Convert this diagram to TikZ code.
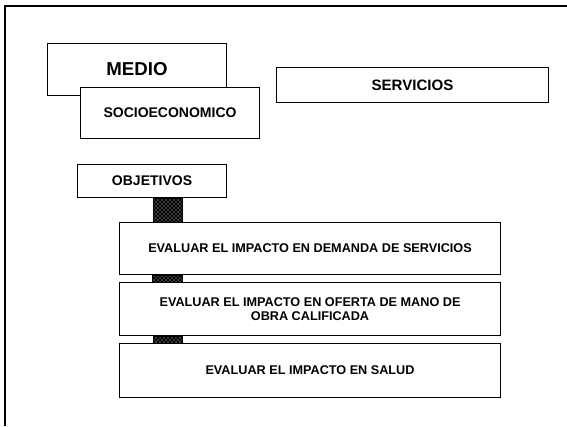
\documentclass[tikz,border=0pt]{standalone}
\usepackage{fontspec}
\setmainfont{Liberation Sans}
\usetikzlibrary{patterns,calc}

\begin{document}
\begin{tikzpicture}[x=0.75pt,y=-0.75pt,every node/.style={font=\bfseries},
  caja/.style={draw,line width=.8pt,fill=white,anchor=north west,inner sep=0pt,align=center},
  trama/.style={draw,line width=.4pt,preaction={fill=black},pattern=crosshatch dots,pattern color=white}]
\useasboundingbox (0,0) rectangle (567,426);
% marco
\draw[line width=1.5pt] (5,426)--(5,6)--(567,6);
% titulo
\node[caja,minimum width=134.25pt,minimum height=39pt,font=\bfseries\fontsize{14}{16}\selectfont] (medio) at (47,43) {MEDIO};
\node[caja,minimum width=134.25pt,minimum height=38.25pt,font=\bfseries\fontsize{10.5}{12}\selectfont] (socio) at (80,87) {SOCIOECONOMICO};
\node[caja,minimum width=204pt,minimum height=26.25pt,font=\bfseries\fontsize{11.3}{13}\selectfont] (serv) at (276,67) {SERVICIOS};
% objetivos
\node[caja,minimum width=111.75pt,minimum height=24.75pt,font=\bfseries\fontsize{10.5}{12}\selectfont] (obj) at (77,164) {OBJETIVOS};
\node[caja,minimum width=285.75pt,minimum height=39pt,font=\bfseries\fontsize{9.5}{10.5}\selectfont] (dem) at (119,222) {EVALUAR EL IMPACTO EN DEMANDA DE SERVICIOS};
\node[caja,minimum width=285.75pt,minimum height=39.75pt,font=\bfseries\fontsize{9.5}{10.5}\selectfont] (ofe) at (119,282) {EVALUAR EL IMPACTO EN OFERTA DE MANO DE\\OBRA CALIFICADA};
\node[caja,minimum width=285.75pt,minimum height=40.5pt,font=\bfseries\fontsize{9.5}{10.5}\selectfont] (sal) at (119,343) {EVALUAR EL IMPACTO EN SALUD};
% uniones
\path[trama] ($(obj.south west)+(76,0)$) rectangle ($(dem.north west)+(63,0)$);
\path[trama] ($(dem.south west)+(33,0)$) rectangle ($(ofe.north west)+(63,0)$);
\path[trama] ($(ofe.south west)+(34,0)$) rectangle ($(sal.north west)+(63,0)$);
\end{tikzpicture}
\end{document}
